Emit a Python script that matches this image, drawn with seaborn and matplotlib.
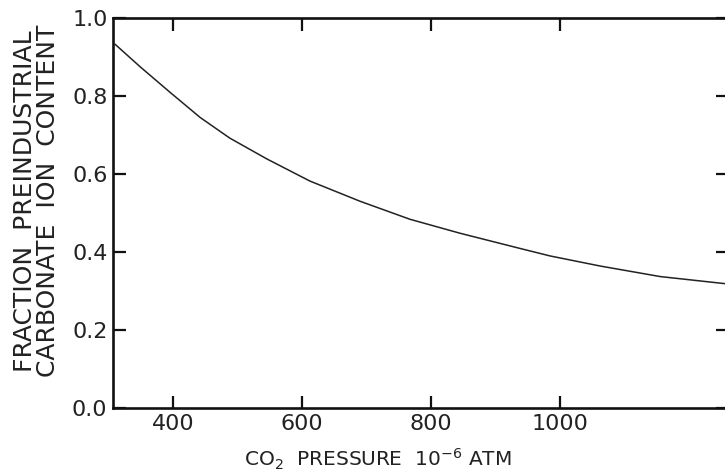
import numpy as np
import pandas as pd
import matplotlib
matplotlib.use("Agg")
import matplotlib.pyplot as plt
import seaborn as sns

# values
co2_pressure = [310, 349, 395, 442, 488, 545, 612, 690, 767, 845, 938, 984, 1062, 1155, 1260]
carbonate_frac = [0.933, 0.875, 0.810, 0.745, 0.692, 0.639, 0.582, 0.530, 0.484, 0.448,
                  0.409, 0.390, 0.364, 0.337, 0.318]
x_ticks = [400, 600, 800, 1000]
y_ticks = [0.0, 0.2, 0.4, 0.6, 0.8, 1.0]

df = pd.DataFrame({"co2": co2_pressure, "frac": carbonate_frac})

sns.set_style("ticks")
plt.rcParams["font.family"] = ["DejaVu Sans"]

fig = plt.figure(figsize=(7.25, 4.75), dpi=100)
ax = fig.add_axes([113 / 725, 67 / 475, 615 / 725, 390 / 475])

sns.lineplot(data=df, x="co2", y="frac", ax=ax, color="#222222", linewidth=1.1)

ax.set_xlim(307, 1260)
ax.set_ylim(0, 1.0)
ax.set_xticks(x_ticks)
ax.set_yticks(y_ticks)
ax.set_yticklabels([f"{v:.1f}" for v in y_ticks])

ax.tick_params(axis="both", direction="in", length=9, width=1.6, color="#111111",
               labelsize=16, labelcolor="#222222", top=True, right=True, pad=4)

for s in ax.spines.values():
    s.set_visible(True)
    s.set_linewidth(1.9)
    s.set_color("#111111")

ax.set_xlabel("CO$_2$  PRESSURE  10$^{-6}$ ATM", fontsize=14.5, color="#222222")
ax.xaxis.set_label_coords(0.43, -0.10)
ax.set_ylabel("FRACTION  PREINDUSTRIAL\nCARBONATE  ION  CONTENT", fontsize=18,
              color="#222222", linespacing=0.95)
ax.yaxis.set_label_coords(-0.086, 0.53)

fig.savefig("out.png", dpi=100)
